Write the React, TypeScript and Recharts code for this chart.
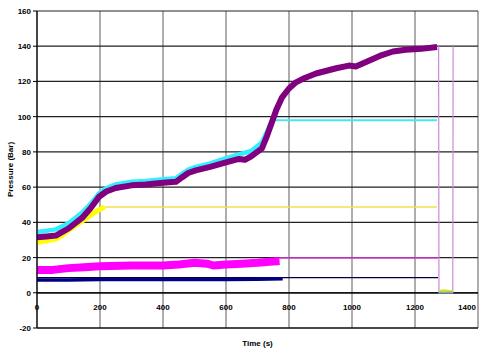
import React from "react";
import { LineChart, Line, XAxis, YAxis, CartesianGrid, ReferenceLine } from "recharts";

const xTicks = [0, 200, 400, 600, 800, 1000, 1200, 1400];
const yTicks = [-20, 0, 20, 40, 60, 80, 100, 120, 140, 160];

const purpleData = [
  { t: 0, v: 31.5 }, { t: 30, v: 32 }, { t: 60, v: 32.5 }, { t: 75, v: 34 },
  { t: 100, v: 36.5 }, { t: 143, v: 42.5 }, { t: 170, v: 48 }, { t: 197, v: 54.5 },
  { t: 220, v: 57.5 }, { t: 250, v: 59.5 }, { t: 300, v: 61 }, { t: 345, v: 61.5 },
  { t: 400, v: 62.5 }, { t: 441, v: 63 }, { t: 460, v: 65.5 }, { t: 480, v: 68 },
  { t: 504, v: 69.5 }, { t: 550, v: 71.5 }, { t: 600, v: 74 }, { t: 641, v: 76 },
  { t: 660, v: 75.5 }, { t: 680, v: 77.5 }, { t: 714, v: 82 }, { t: 730, v: 89 },
  { t: 746, v: 97 }, { t: 760, v: 104 }, { t: 778, v: 111 }, { t: 800, v: 116 },
  { t: 822, v: 119.5 }, { t: 850, v: 122 }, { t: 886, v: 124.5 }, { t: 950, v: 127.5 },
  { t: 990, v: 129 }, { t: 1012, v: 128.5 }, { t: 1050, v: 131.5 }, { t: 1095, v: 135 },
  { t: 1130, v: 137 }, { t: 1171, v: 138 }, { t: 1220, v: 138.5 }, { t: 1270, v: 139.5 },
];

const cyanData = [
  { t: 0, v: 34.5 }, { t: 60, v: 36 }, { t: 100, v: 39.5 }, { t: 143, v: 45.5 },
  { t: 170, v: 50.5 }, { t: 197, v: 56.5 }, { t: 220, v: 59.5 }, { t: 250, v: 61.5 },
  { t: 300, v: 63 }, { t: 345, v: 63.5 }, { t: 400, v: 64.5 }, { t: 441, v: 65 },
  { t: 460, v: 67.5 }, { t: 480, v: 70 }, { t: 504, v: 71.5 }, { t: 550, v: 73.5 },
  { t: 600, v: 76.5 }, { t: 641, v: 78.5 }, { t: 680, v: 80.5 }, { t: 714, v: 85.5 },
  { t: 730, v: 91.5 }, { t: 746, v: 98 },
];
const cyanHold = [{ t: 746, v: 98 }, { t: 1270, v: 98 }];

const yellowData = [
  { t: 0, v: 28.5 }, { t: 60, v: 30.5 }, { t: 75, v: 32 }, { t: 100, v: 35.5 },
  { t: 150, v: 41.5 }, { t: 190, v: 46.5 }, { t: 215, v: 48.7 },
];
const yellowHold = [{ t: 215, v: 48.7 }, { t: 1270, v: 48.7 }];

const magentaData = [
  { t: 0, v: 13 }, { t: 50, v: 13 }, { t: 100, v: 14 }, { t: 150, v: 14.5 },
  { t: 200, v: 15 }, { t: 300, v: 15.5 }, { t: 400, v: 15.5 }, { t: 450, v: 16 },
  { t: 500, v: 17 }, { t: 540, v: 16.5 }, { t: 560, v: 15.5 }, { t: 600, v: 16 },
  { t: 650, v: 16.5 }, { t: 700, v: 17 }, { t: 770, v: 18 },
];
const magentaHold = [{ t: 770, v: 19.8 }, { t: 1273, v: 19.8 }];

const navyData = [
  { t: 0, v: 7.3 }, { t: 100, v: 7.3 }, { t: 200, v: 7.5 }, { t: 300, v: 7.6 },
  { t: 400, v: 7.5 }, { t: 500, v: 7.5 }, { t: 600, v: 7.6 }, { t: 700, v: 7.7 }, { t: 780, v: 8 },
];
const navyHold = [{ t: 0, v: 8.6 }, { t: 1273, v: 8.6 }];

const dropData = [
  { t: 1275, v: 140 }, { t: 1276, v: 0 }, { t: 1320, v: 0 }, { t: 1321, v: 140 },
];
const afterYellow = [{ t: 1276, v: 1 }, { t: 1290, v: 1.5 }, { t: 1305, v: 1.2 }, { t: 1320, v: 0.8 }];
const afterCyan = [{ t: 1276, v: 0.4 }, { t: 1320, v: 0.4 }];

const FONT = "'Liberation Sans', Arial, sans-serif";

const XTick = (props: any) => {
  const { x, y, payload } = props;
  return (
    <text x={x} y={y - 26} textAnchor="middle" fontSize={8} fontWeight="bold" fontFamily={FONT} fill="#000">
      {payload.value}
    </text>
  );
};

const YTick = (props: any) => {
  const { x, y, payload } = props;
  return (
    <text x={x} y={y + 3} textAnchor="end" fontSize={8} fontWeight="bold" fontFamily={FONT} fill="#000">
      {payload.value}
    </text>
  );
};

const XLabel = (props: any) => {
  const vb = props.viewBox || {};
  return (
    <text x={vb.x + vb.width / 2} y={vb.y + 18} textAnchor="middle" fontSize={8} fontWeight="bold" fontFamily={FONT} fill="#000">
      Time (s)
    </text>
  );
};

const YLabel = (props: any) => {
  const vb = props.viewBox || {};
  const cx = vb.x + 10.5;
  const cy = vb.y + vb.height / 2;
  return (
    <text x={cx} y={cy} transform={`rotate(-90, ${cx}, ${cy})`} textAnchor="middle" dominantBaseline="central" fontSize={8} fontWeight="bold" fontFamily={FONT} fill="#000">
      Pressure (Bar)
    </text>
  );
};

export default function App() {
  const lineCommon = { dot: false, isAnimationActive: false, dataKey: "v", type: "linear" as const, strokeLinejoin: "round" as const };
  return (
    <div style={{ position: "fixed", left: 0, top: 0, width: 483, height: 351, background: "#fff" }}>
      <LineChart width={483} height={351} margin={{ top: 11, right: 5, bottom: 0, left: 0 }}>
        <CartesianGrid horizontal={false} stroke="#777" strokeWidth={1.2} verticalValues={xTicks} />
        <CartesianGrid vertical={false} stroke="#222" strokeWidth={1.2} horizontalValues={yTicks} />
        <XAxis
          dataKey="t"
          type="number"
          domain={[0, 1400]}
          ticks={xTicks}
          allowDataOverflow
          height={23}
          tickLine={false}
          tickSize={6}
          tickMargin={2}
          axisLine={{ stroke: "#000", strokeWidth: 1.2 }}
          tick={<XTick />}
          label={<XLabel />}
        />
        <YAxis
          type="number"
          domain={[-20, 160]}
          ticks={yTicks}
          width={37}
          tickSize={4}
          tickMargin={2}
          tickLine={{ stroke: "#000" }}
          axisLine={{ stroke: "#000", strokeWidth: 1.2 }}
          tick={<YTick />}
          label={<YLabel />}
          allowDataOverflow
        />
        <ReferenceLine y={0} stroke="#000" strokeWidth={1.3} />
        <Line {...lineCommon} data={dropData} stroke="#cc88d8" strokeWidth={1.2} />
        <Line {...lineCommon} data={afterYellow} stroke="#e6e600" strokeWidth={2} />
        <Line {...lineCommon} data={afterCyan} stroke="#66cc99" strokeWidth={1.5} />
        <Line {...lineCommon} data={navyHold} stroke="#000040" strokeWidth={1.3} />
        <Line {...lineCommon} data={navyData} stroke="#000080" strokeWidth={3.5} />
        <Line {...lineCommon} data={magentaHold} stroke="#e040e0" strokeWidth={1.5} />
        <Line {...lineCommon} data={magentaData} stroke="#ff00ff" strokeWidth={8} />
        <Line {...lineCommon} data={yellowHold} stroke="#eee050" strokeWidth={1.5} />
        <Line {...lineCommon} data={yellowData} stroke="#ffff00" strokeWidth={5} />
        <Line {...lineCommon} data={cyanHold} stroke="#40e8f0" strokeWidth={2} />
        <Line {...lineCommon} data={cyanData} stroke="#33eeff" strokeWidth={4.5} />
        <Line {...lineCommon} data={purpleData} stroke="#800080" strokeWidth={6} />
      </LineChart>
    </div>
  );
}
